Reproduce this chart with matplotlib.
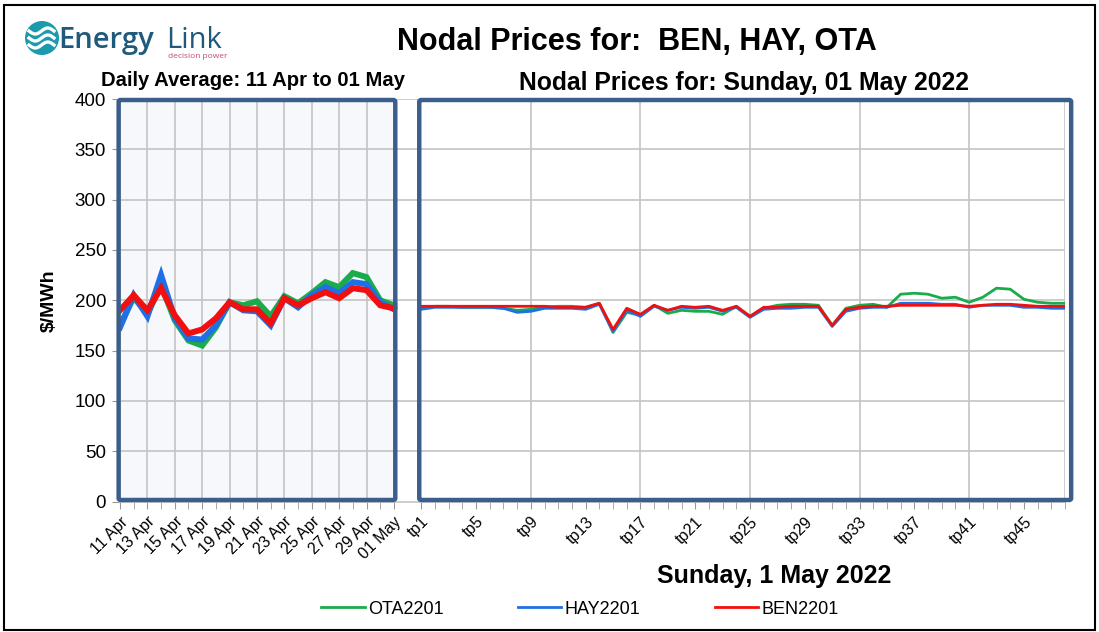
import numpy as np
import matplotlib
matplotlib.use("Agg")
import matplotlib.pyplot as plt
from matplotlib.patches import Rectangle, FancyBboxPatch, Ellipse

plt.rcParams['font.family'] = ['Liberation Sans', 'DejaVu Sans']
NARROW = ['Liberation Sans Narrow', 'Liberation Sans', 'DejaVu Sans']

# daily averages, 11 Apr .. 01 May
days = ['11 Apr', '12 Apr', '13 Apr', '14 Apr', '15 Apr', '16 Apr', '17 Apr',
        '18 Apr', '19 Apr', '20 Apr', '21 Apr', '22 Apr', '23 Apr', '24 Apr',
        '25 Apr', '26 Apr', '27 Apr', '28 Apr', '29 Apr', '30 Apr', '01 May']
ota_daily = [175, 203, 186, 215, 180, 160, 155, 173, 198, 195, 199, 184, 204, 197,
             207, 218, 213, 227, 223, 200, 195]
hay_daily = [173, 205, 184, 225, 182, 162, 161, 175, 198, 190, 189, 175, 202, 193,
             205, 213, 207, 218, 216, 198, 191]
ben_daily = [190, 205, 190, 212, 185, 167, 171, 182, 198, 191, 191, 177, 202, 195,
             202, 208, 202, 212, 210, 195, 192]

# trading periods for Sunday 1 May 2022
tps = ['tp%d' % i for i in range(1, 49)]
ota_tp = [192, 194, 194, 193, 193, 193, 192, 190, 191, 193, 194, 194, 193, 197, 168, 188,
          185, 195, 187, 190, 189, 189, 186, 194, 184, 192, 195, 196, 196, 195, 175, 192,
          195, 196, 193, 206, 207, 206, 202, 203, 198, 203, 212, 211, 201, 198, 197, 197]
hay_tp = [191, 193, 193, 193, 193, 193, 192, 188, 189, 192, 192, 192, 191, 196, 169, 190,
          184, 194, 190, 193, 192, 193, 189, 193, 183, 191, 192, 192, 193, 193, 174, 189,
          192, 193, 193, 197, 197, 197, 196, 196, 193, 195, 195, 195, 193, 193, 192, 192]
ben_tp = [194, 194, 194, 194, 194, 194, 194, 194, 194, 194, 193, 193, 193, 197, 171, 192,
          186, 195, 190, 194, 193, 194, 190, 194, 184, 193, 193, 194, 194, 194, 175, 191,
          193, 194, 194, 195, 195, 195, 195, 195, 194, 195, 196, 196, 195, 194, 194, 194]

GREEN = '#1aab4b'
BLUE = '#1f6fe6'
RED = '#f20f0f'
FRAME = '#3c5e8c'
GRID = '#c4c4c4'

W, H = 1099, 632
fig = plt.figure(figsize=(W / 100, H / 100), dpi=100)

def fx(px):
    return px / W

def fy(py):
    return 1 - py / H

ax = fig.add_axes([fx(120), fy(501.5), fx(1065) - fx(120), fy(99) - fy(501.5)])

x_days = np.arange(len(days))
x_tp = np.arange(len(tps)) + len(days) + 1

ax.set_xlim(0, x_tp[-1])
ax.set_ylim(0, 400)

# left panel background
ax.add_patch(Rectangle((0, 0), x_days[-1], 400, facecolor='#f6f8fc', edgecolor='none', zorder=0))

# gridlines
for v in range(50, 401, 50):
    ax.axhline(v, color=GRID, lw=1.2, zorder=1)
for xv in x_days[2:-1:2]:
    ax.axvline(xv, color=GRID, lw=1.2, zorder=1)
for xv in list(x_tp[8::8]) + [x_tp[-1]]:
    ax.axvline(xv, color=GRID, lw=1.2, zorder=1)

# series
ax.plot(x_days, ota_daily, color=GREEN, lw=4.3, zorder=3, solid_joinstyle='miter')
ax.plot(x_days, hay_daily, color=BLUE, lw=4.3, zorder=4, solid_joinstyle='miter')
ax.plot(x_days, ben_daily, color=RED, lw=4.3, zorder=5, solid_joinstyle='miter')
l1, = ax.plot(x_tp, ota_tp, color=GREEN, lw=2.0, zorder=3, label='OTA2201')
l2, = ax.plot(x_tp, hay_tp, color=BLUE, lw=2.0, zorder=4, label='HAY2201')
l3, = ax.plot(x_tp, ben_tp, color=RED, lw=2.0, zorder=5, label='BEN2201')

# panel frames
for x0, x1 in [(-0.1, x_days[-1] + 0.1), (x_tp[0] - 0.15, x_tp[-1] + 0.45)]:
    ax.add_patch(FancyBboxPatch((x0, 1.5), x1 - x0, 397.5,
                                boxstyle='round,pad=0,rounding_size=0.15',
                                facecolor='none', edgecolor=FRAME, lw=3.2,
                                zorder=6, clip_on=False, mutation_aspect=12))

for s in ['top', 'right']:
    ax.spines[s].set_visible(False)
for s in ['left', 'bottom']:
    ax.spines[s].set_color(GRID)
    ax.spines[s].set_linewidth(1.2)

ax.set_yticks(range(0, 401, 50))
ax.tick_params(axis='y', length=6, color='#999999', labelsize=13.5, pad=4)
ax.set_xticks(np.concatenate([x_days[::2], x_tp[::4]]))
ax.set_xticklabels(days[::2] + tps[::4], rotation=45, ha='right',
                   rotation_mode='anchor', fontsize=11.5, family=NARROW)
ax.set_xticks(np.concatenate([x_days, x_tp]), minor=True)
ax.tick_params(axis='x', which='both', length=5, color='#999999', pad=4)

ax.set_ylabel('$/MWh', fontsize=14, fontweight='bold', labelpad=12)

# titles
fig.text(fx(637), fy(42), 'Nodal Prices for:  BEN, HAY, OTA', fontsize=22,
         fontweight='bold', ha='center', va='center')
fig.text(fx(253), fy(80), 'Daily Average: 11 Apr to 01 May', fontsize=14.6,
         fontweight='bold', ha='center', va='center')
fig.text(fx(744), fy(83), 'Nodal Prices for: Sunday, 01 May 2022', fontsize=17.8,
         fontweight='bold', ha='center', va='center')
fig.text(fx(774), fy(576), 'Sunday, 1 May 2022', fontsize=18, fontweight='bold',
         ha='center', va='center', family=NARROW)

fig.legend(handles=[l1, l2, l3], loc='center', bbox_to_anchor=(fx(580), fy(609)),
           ncol=3, frameon=False, handlelength=2.4, columnspacing=4.1,
           handletextpad=0.2, prop={'family': NARROW, 'size': 13})

# logo
fig.add_artist(Ellipse((fx(42), fy(38)), 34 / W, 34 / H, transform=fig.transFigure,
                       facecolor='#1b9aae', edgecolor='none'))
t = np.linspace(0, 1, 30)
for dy in (-7, 0, 7):
    xs = 29 + 25 * t
    ys = 38 + dy + 3 * np.sin(t * 2 * np.pi)
    fig.add_artist(plt.Line2D(fx(xs), fy(ys), color='white', lw=2.4,
                              transform=fig.transFigure))
fig.text(fx(58), fy(48), 'Energy', fontsize=21, color='#1f5a7c', fontweight='semibold',
         ha='left', va='baseline', family=['Open Sans', 'DejaVu Sans'])
fig.text(fx(166), fy(48), 'Link', fontsize=21, color='#1f5a7c',
         ha='left', va='baseline', family=['Open Sans', 'DejaVu Sans'])
fig.text(fx(168), fy(57), 'decision power', fontsize=6, color='#c04d6b',
         ha='left', va='center', family=['Open Sans', 'DejaVu Sans'])

# outer border
fig.add_artist(Rectangle((fx(4), fy(630)), fx(1095) - fx(4), fy(5) - fy(630),
                         transform=fig.transFigure, facecolor='none',
                         edgecolor='black', lw=1.5))

fig.savefig('out.png', dpi=100)
